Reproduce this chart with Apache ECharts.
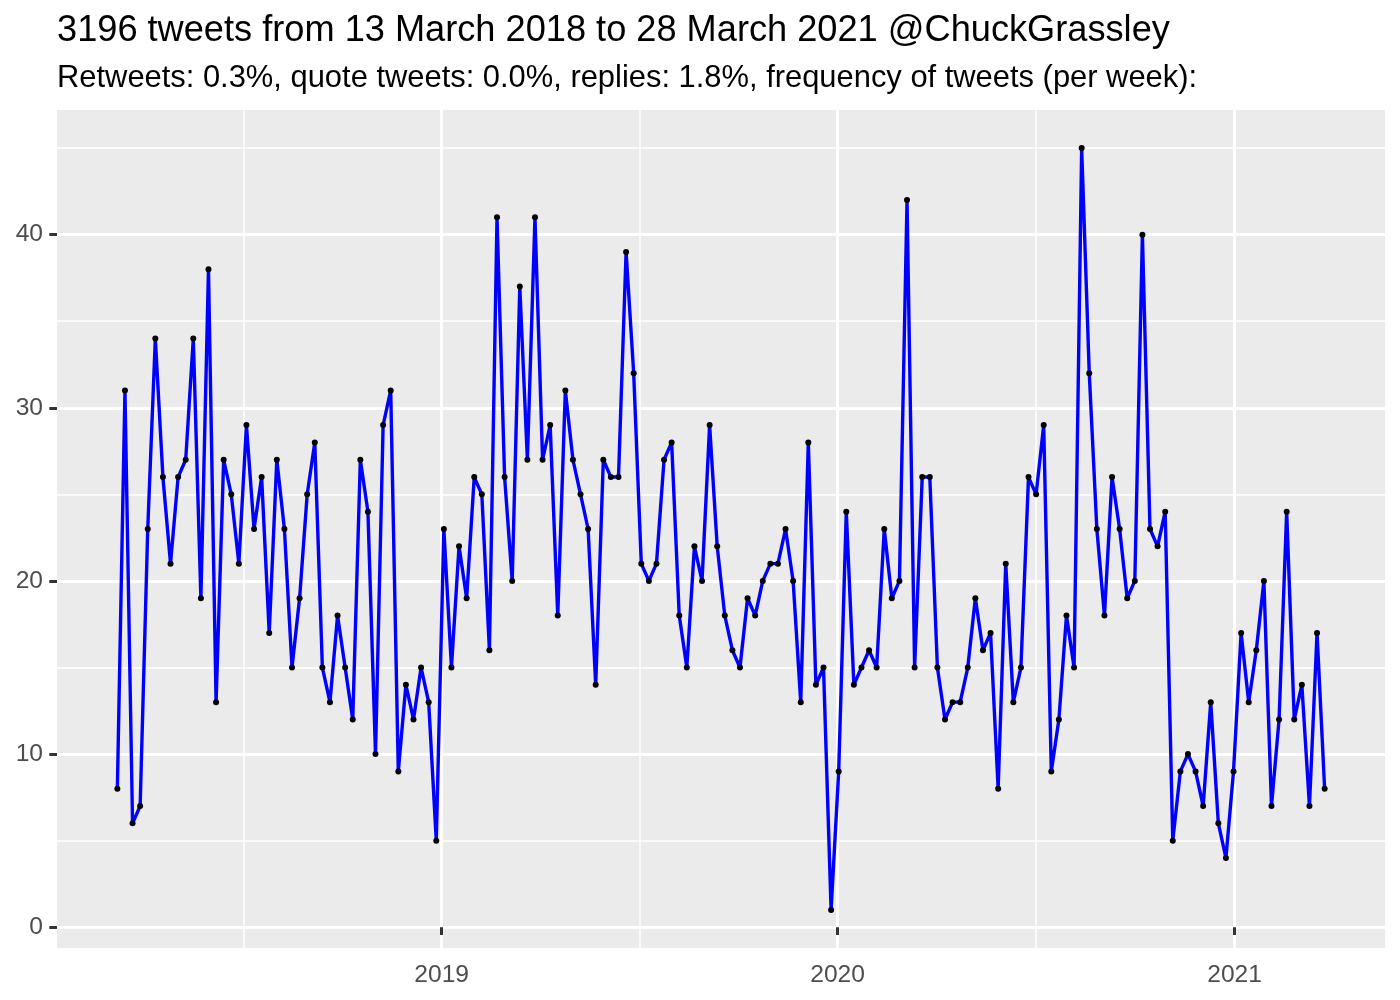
<!DOCTYPE html>
<html>
<head>
<meta charset="utf-8">
<script src="https://cdn.jsdelivr.net/npm/echarts@6/dist/echarts.min.js"></script>
<style>
  html, body { margin: 0; padding: 0; background: #ffffff; }
  #chart { width: 1400px; height: 1000px; }
</style>
</head>
<body>
<div id="chart"></div>
<script>
// ---- data ----
const titleText = '3196 tweets from 13 March 2018 to 28 March 2021 @ChuckGrassley';
const subtitleText = 'Retweets: 0.3%, quote tweets: 0.0%, replies: 1.8%, frequency of tweets (per week):';

// first weekly bin (points are one week apart)
const firstWeek = '2018-03-08';

// tweets per week
const tweetsPerWeek = [
  8, 31, 6, 7, 23, 34, 26, 21, 26, 27,
  34, 19, 38, 13, 27, 25, 21, 29, 23, 26,
  17, 27, 23, 15, 19, 25, 28, 15, 13, 18,
  15, 12, 27, 24, 10, 29, 31, 9, 14, 12,
  15, 13, 5, 23, 15, 22, 19, 26, 25, 16,
  41, 26, 20, 37, 27, 41, 27, 29, 18, 31,
  27, 25, 23, 14, 27, 26, 26, 39, 32, 21,
  20, 21, 27, 28, 18, 15, 22, 20, 29, 22,
  18, 16, 15, 19, 18, 20, 21, 21, 23, 20,
  13, 28, 14, 15, 1, 9, 24, 14, 15, 16,
  15, 23, 19, 20, 42, 15, 26, 26, 15, 12,
  13, 13, 15, 19, 16, 17, 8, 21, 13, 15,
  26, 25, 29, 9, 12, 18, 15, 45, 32, 23,
  18, 26, 23, 19, 20, 40, 23, 22, 24, 5,
  9, 10, 9, 7, 13, 6, 4, 9, 17, 13,
  16, 20, 7, 12, 24, 12, 14, 7, 17, 8
];

// axis breaks
const xMajorBreaks = ['2019-01-01', '2020-01-01', '2021-01-01'];
const xMajorLabels = ['2019', '2020', '2021'];
const xMinorBreaks = ['2018-07-02T12:00:00Z', '2019-07-02T12:00:00Z', '2020-07-02T00:00:00Z'];
const yMajorBreaks = [0, 10, 20, 30, 40];
const yMinorBreaks = [5, 15, 25, 35, 45];

// ---- build ----
const DAY = 86400000;
const toMs = s => Date.parse(s.length === 10 ? s + 'T00:00:00Z' : s);
const t0 = toMs(firstWeek);
const seriesData = tweetsPerWeek.map((v, i) => [t0 + i * 7 * DAY, v]);

const xs = seriesData.map(d => d[0]);
const xLo = Math.min(...xs), xHi = Math.max(...xs);
const xPad = (xHi - xLo) * 0.05;
const yLo = Math.min(...tweetsPerWeek), yHi = Math.max(...tweetsPerWeek);
const yPad = (yHi - yLo) * 0.05;

const majorX = xMajorBreaks.map(toMs);
const minorX = xMinorBreaks.map(toMs);
const labelMap = {};
majorX.forEach((t, i) => { labelMap[t] = xMajorLabels[i]; });

const FONT = '"Liberation Sans", Arial, Helvetica, sans-serif';

const chart = echarts.init(document.getElementById('chart'), null, { renderer: 'canvas' });

chart.setOption({
  animation: false,
  backgroundColor: '#ffffff',
  textStyle: { fontFamily: FONT },
  title: [
    {
      text: titleText,
      left: 52,
      top: 8,
      textStyle: { fontFamily: FONT, fontSize: 36.2, fontWeight: 'normal', color: '#000000' }
    },
    {
      text: subtitleText,
      left: 52,
      top: 58,
      textStyle: { fontFamily: FONT, fontSize: 30.9, fontWeight: 'normal', color: '#000000' }
    }
  ],
  grid: {
    left: 57, right: 15, top: 110, bottom: 52,
    show: true, backgroundColor: '#EBEBEB', borderWidth: 0,
    containLabel: false
  },
  xAxis: [
    {
      type: 'value',
      min: xLo - xPad,
      max: xHi + xPad,
      axisLine: { show: false },
      axisTick: {
        show: true, inside: false, length: 7.7,
        customValues: majorX,
        lineStyle: { color: '#333333', width: 3 }
      },
      axisLabel: {
        show: true,
        customValues: majorX,
        margin: 15,
        color: '#4D4D4D',
        fontFamily: FONT,
        fontSize: 24.6,
        formatter: v => labelMap[v] !== undefined ? labelMap[v] : String(new Date(v).getUTCFullYear())
      },
      splitLine: { show: true, lineStyle: { color: '#ffffff', width: 3 } }
    },
    {
      type: 'value',
      min: xLo - xPad,
      max: xHi + xPad,
      position: 'bottom',
      axisLine: { show: false },
      axisTick: { show: false, customValues: minorX },
      axisLabel: { show: false },
      splitLine: { show: true, lineStyle: { color: '#ffffff', width: 1.5 } }
    }
  ],
  yAxis: [
    {
      type: 'value',
      min: yLo - yPad,
      max: yHi + yPad,
      position: 'left',
      axisLine: { show: false },
      axisTick: {
        show: true, inside: false, length: 7.7,
        customValues: yMajorBreaks,
        lineStyle: { color: '#333333', width: 3 }
      },
      axisLabel: {
        show: true,
        customValues: yMajorBreaks,
        margin: 14,
        color: '#4D4D4D',
        fontFamily: FONT,
        fontSize: 24.6
      },
      splitLine: { show: true, lineStyle: { color: '#ffffff', width: 3 } }
    },
    {
      type: 'value',
      min: yLo - yPad,
      max: yHi + yPad,
      position: 'left',
      axisLine: { show: false },
      axisTick: { show: false, customValues: yMinorBreaks },
      axisLabel: { show: false },
      splitLine: { show: true, lineStyle: { color: '#ffffff', width: 1.5 } }
    }
  ],
  series: [
    {
      type: 'line',
      xAxisIndex: 0,
      yAxisIndex: 0,
      data: seriesData,
      showSymbol: true,
      showAllSymbol: true,
      symbol: 'circle',
      symbolSize: 6,
      itemStyle: { color: '#000000', borderWidth: 0 },
      lineStyle: { color: '#0000FF', width: 3.4 },
      emphasis: { disabled: true },
      z: 3
    }
  ]
});
</script>
</body>
</html>
